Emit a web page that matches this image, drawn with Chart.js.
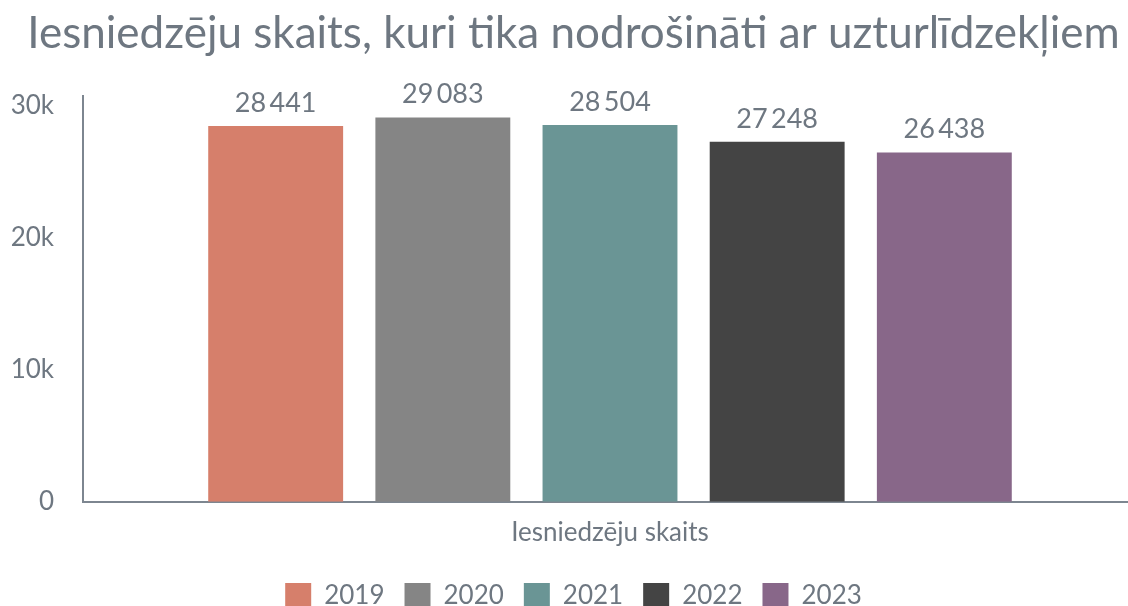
<!DOCTYPE html>
<html>
<head>
<meta charset="utf-8">
<script src="https://cdn.jsdelivr.net/npm/chart.js@4.4.1/dist/chart.umd.min.js"></script>
<style>
  html, body { margin: 0; padding: 0; background: #fff; overflow: hidden; }
  /* a little bigger than the window: the legend is clipped at the bottom like the original */
  #wrap { width: 1137px; height: 619px; }
</style>
</head>
<body>
<div id="wrap"><canvas id="chart"></canvas></div>
<script>
// chart data
const categories = ['Iesniedzēju skaits'];
const years = ['2019', '2020', '2021', '2022', '2023'];
const values = [28441, 29083, 28504, 27248, 26438];
const colors = ['#d67f6b', '#858585', '#6a9595', '#444444', '#886789'];
const yTicks = [0, 10000, 20000, 30000];

const textColor = '#6e7781';
const axisColor = '#7d8690';

function fmt(n) {
  return String(n).replace(/\B(?=(\d{3})+(?!\d))/g, '\u2009');
}

// draw the value above each bar
const valueLabels = {
  id: 'valueLabels',
  afterDatasetsDraw(chart) {
    const ctx = chart.ctx;
    ctx.save();
    ctx.font = '27px Lato';
    ctx.fillStyle = textColor;
    ctx.textAlign = 'center';
    ctx.textBaseline = 'alphabetic';
    chart.data.datasets.forEach((ds, i) => {
      const meta = chart.getDatasetMeta(i);
      meta.data.forEach((bar, j) => {
        ctx.fillText(fmt(ds.data[j]), bar.x, bar.y - 14);
      });
    });
    ctx.restore();
  }
};

const datasets = years.map((y, i) => ({
  label: y,
  data: [values[i]],
  backgroundColor: colors[i],
  borderWidth: 0
}));

new Chart(document.getElementById('chart'), {
  type: 'bar',
  data: { labels: categories, datasets: datasets },
  plugins: [valueLabels],
  options: {
    responsive: true,
    maintainAspectRatio: false,
    animation: false,
    categoryPercentage: 0.793,
    barPercentage: 0.807,
    layout: { padding: { left: 10, right: 0, top: 0, bottom: 0 } },
    scales: {
      x: {
        grid: { display: false, drawTicks: false },
        border: { color: axisColor, width: 2 },
        ticks: { color: textColor, font: { family: 'Lato', size: 26 }, padding: 15 }
      },
      y: {
        min: 0,
        max: 30720,
        afterBuildTicks(axis) {
          axis.ticks = yTicks.map(v => ({ value: v }));
        },
        afterFit(scale) { scale.width = 73; },
        grid: { display: false, drawTicks: false },
        border: { color: axisColor, width: 2 },
        ticks: {
          color: textColor,
          font: { family: 'Lato', size: 26 },
          padding: 29,
          callback: v => v === 0 ? '0' : (v / 1000) + 'k'
        }
      }
    },
    plugins: {
      title: {
        display: true,
        text: 'Iesniedzēju skaits, kuri tika nodrošināti ar uzturlīdzekļiem',
        color: textColor,
        font: { family: 'Lato', size: 44, weight: 'normal', lineHeight: 1.2 },
        padding: { top: 7, bottom: 36 }
      },
      legend: {
        position: 'bottom',
        labels: {
          color: textColor,
          font: { family: 'Lato', size: 26 },
          boxWidth: 26,
          boxHeight: 26,
          padding: 20
        }
      },
      tooltip: { enabled: false }
    }
  }
});
</script>
</body>
</html>
